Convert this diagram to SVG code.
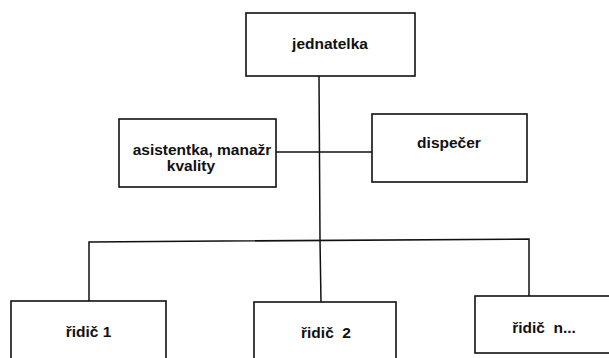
<svg xmlns="http://www.w3.org/2000/svg" width="609" height="358" viewBox="0 0 609 358">
<style>
.box{fill:#fff;stroke:#111;stroke-width:1.6}
.lbl{font-family:"Liberation Sans",Arial,sans-serif;font-weight:bold;font-size:15.5px;fill:#111;text-anchor:middle}
.con{fill:none;stroke:#111;stroke-width:1.5}
</style>
<rect width="609" height="358" fill="#fff"/>
<g id="connectors">
<path class="con" d="M319,76 L320,240 L321,302"/>
<path class="con" d="M276,152 L372,152"/>
<path class="con" d="M89,301 L89,242 L529,239 L529,296"/>
</g>
<g id="jednatelka">
<rect class="box" x="246" y="13" width="169" height="63"/>
<text class="lbl" x="330" y="49">jednatelka</text>
</g>
<g id="asistentka">
<rect class="box" x="119" y="119" width="157" height="68"/>
<text class="lbl" x="202" y="155">asistentka, manažr</text>
<text class="lbl" x="191" y="171">kvality</text>
</g>
<g id="dispecer">
<rect class="box" x="372" y="114" width="155" height="68"/>
<text class="lbl" x="449" y="148">dispečer</text>
</g>
<g id="ridic1">
<rect class="box" x="11" y="301" width="155" height="70"/>
<text class="lbl" x="88.5" y="337">řidič 1</text>
</g>
<g id="ridic2">
<rect class="box" x="254" y="302" width="142" height="70"/>
<text class="lbl" x="326" y="338" xml:space="preserve">řidič  2</text>
</g>
<g id="ridicn">
<rect class="box" x="475" y="296" width="145" height="57"/>
<text class="lbl" x="544" y="333" xml:space="preserve">řidič  n...</text>
</g>
</svg>
